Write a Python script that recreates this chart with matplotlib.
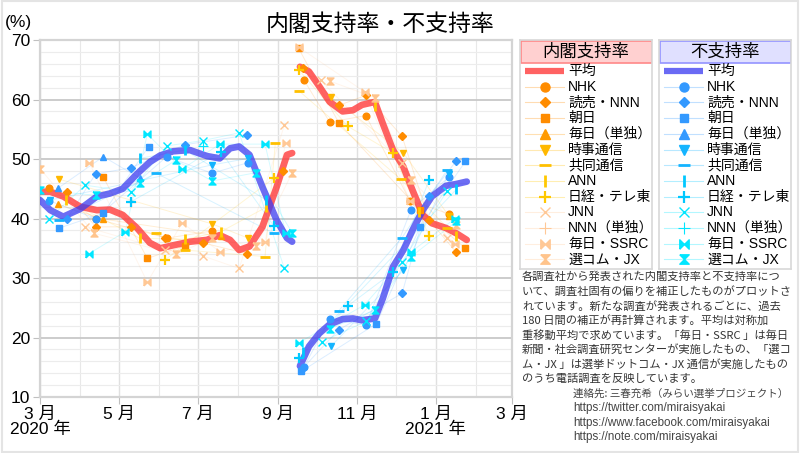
import matplotlib
matplotlib.use('Agg')
import matplotlib.pyplot as plt
import matplotlib.dates as mdates
from matplotlib.patches import Rectangle
from matplotlib.ticker import MultipleLocator, FuncFormatter
import pandas as pd

plt.rcParams['font.family'] = ['Liberation Sans', 'Noto Sans CJK JP', 'DejaVu Sans']
JP = ['Noto Sans CJK JP', 'DejaVu Sans']

# ---- averages (two segments, gap at the change of cabinet) ----
avg1_dates = ['2020-03-01', '2020-03-09', '2020-03-19', '2020-04-01', '2020-04-14', '2020-04-24',
              '2020-05-04', '2020-05-15', '2020-05-25', '2020-06-02', '2020-06-12', '2020-06-25',
              '2020-07-08', '2020-07-18', '2020-07-26', '2020-08-02', '2020-08-10', '2020-08-20',
              '2020-08-31', '2020-09-08', '2020-09-12']
support_avg1 = [44.5, 44.5, 43.7, 42.0, 41.4, 41.5, 40.6, 38.4, 35.9, 35.0, 35.5, 36.1,
                36.4, 37.2, 36.4, 34.7, 35.3, 38.6, 45.3, 50.7, 51.0]
oppose_avg1 = [43.1, 41.4, 40.3, 41.6, 43.7, 44.2, 45.0, 47.5, 49.5, 50.6, 51.3, 51.5,
               50.5, 50.1, 51.8, 52.1, 50.7, 45.3, 39.7, 36.7, 36.1]
avg2_dates = ['2020-09-18', '2020-09-25', '2020-10-03', '2020-10-11', '2020-10-21', '2020-10-29',
              '2020-11-05', '2020-11-15', '2020-11-21', '2020-11-29', '2020-12-07', '2020-12-14',
              '2020-12-22', '2020-12-29', '2021-01-09', '2021-01-17', '2021-01-25']
support_avg2 = [65.5, 64.7, 62.2, 59.6, 58.0, 58.2, 59.1, 59.6, 56.0, 51.5, 48.7, 44.8,
                40.6, 39.2, 38.4, 37.5, 36.4]
oppose_avg2 = [15.2, 18.5, 20.7, 22.2, 23.1, 23.2, 22.9, 23.2, 26.5, 31.9, 34.7, 38.0,
               41.4, 43.7, 45.5, 45.8, 46.2]

# ---- adjusted poll results (date, value) ----
nhk_support = [('2020-03-08', 45.1), ('2020-04-13', 40.0), ('2020-06-07', 36.7), ('2020-07-12', 37.9),
               ('2020-09-21', 63.3), ('2020-10-11', 56.2), ('2020-11-08', 57.3), ('2020-12-12', 43.0),
               ('2021-01-11', 40.8)]
nhk_oppose = [('2020-03-08', 43.0), ('2020-04-13', 40.0), ('2020-06-07', 50.4), ('2020-07-12', 47.6),
              ('2020-08-09', 49.4), ('2020-09-21', 15.0), ('2020-10-11', 23.1), ('2020-11-08', 22.1),
              ('2020-12-13', 41.5), ('2021-01-11', 46.9)]
yomiuri_support = [('2020-03-22', 44.5), ('2020-04-13', 38.6), ('2020-05-10', 38.6), ('2020-06-06', 36.8),
                   ('2020-07-05', 35.9), ('2020-08-08', 34.1), ('2020-09-05', 47.9), ('2020-09-20', 65.3),
                   ('2020-10-18', 59.0), ('2020-11-08', 60.7), ('2020-12-06', 53.8), ('2020-12-27', 39.7),
                   ('2021-01-17', 34.3)]
yomiuri_oppose = [('2020-03-22', 40.0), ('2020-04-13', 47.5), ('2020-05-10', 48.5), ('2020-06-21', 52.4),
                  ('2020-08-08', 54.0), ('2020-09-20', 14.8), ('2020-10-18', 21.3), ('2020-12-06', 27.4),
                  ('2020-12-27', 43.8), ('2021-01-17', 49.7)]
asahi_support = [('2020-04-19', 46.9), ('2020-05-23', 33.3), ('2020-06-21', 35.4), ('2020-09-17', 68.6),
                 ('2020-10-18', 56.1), ('2020-12-20', 41.4), ('2021-01-24', 35.0)]
asahi_oppose = [('2020-03-16', 38.4), ('2020-04-19', 40.9), ('2020-05-24', 52.1), ('2020-09-19', 14.3),
                ('2020-11-16', 22.3), ('2020-12-20', 38.6), ('2021-01-24', 49.6)]
mainichi_support = [('2020-03-15', 42.4), ('2020-04-19', 39.9), ('2020-07-19', 37.0), ('2021-01-11', 40.5)]
mainichi_oppose = [('2020-03-15', 45.1), ('2020-04-19', 50.4), ('2020-05-17', 46.8)]
jiji_support = [('2020-03-16', 46.6), ('2020-07-12', 39.1), ('2020-08-09', 36.7), ('2020-10-12', 60.4),
                ('2020-12-07', 51.0), ('2021-01-11', 40.5)]
jiji_oppose = [('2020-03-09', 43.1), ('2020-07-12', 49.0), ('2020-08-09', 50.1), ('2020-10-12', 18.5),
               ('2020-12-07', 31.3), ('2021-01-11', 47.5)]
kyodo_support = [('2020-05-30', 37.5), ('2020-06-21', 34.7), ('2020-08-22', 33.6), ('2020-08-30', 52.7),
                 ('2020-09-17', 61.5), ('2020-12-05', 46.6), ('2021-01-10', 38.4)]
kyodo_oppose = [('2020-03-16', 39.7), ('2020-05-30', 47.6), ('2020-08-29', 37.5), ('2020-10-18', 24.5),
                ('2020-12-06', 36.8), ('2021-01-10', 48.2)]
ann_support = [('2020-03-21', 43.1), ('2020-05-17', 36.7), ('2020-06-21', 36.5), ('2020-07-19', 37.8),
               ('2020-08-23', 41.9), ('2020-11-15', 58.9), ('2020-12-19', 41.1), ('2021-01-17', 37.0)]
ann_oppose = [('2020-05-17', 50.1), ('2020-06-21', 51.5), ('2020-08-23', 43.1), ('2020-09-20', 17.6),
              ('2021-01-17', 44.9)]
nikkei_support = [('2020-06-06', 33.1), ('2020-08-29', 46.8), ('2020-09-17', 65.0), ('2020-10-25', 55.5),
                  ('2020-11-29', 51.0), ('2020-12-27', 37.0)]
nikkei_oppose = [('2020-05-10', 42.8), ('2020-07-19', 51.2), ('2020-08-29', 38.7), ('2020-09-17', 16.5),
                 ('2020-10-25', 25.3), ('2020-11-29', 31.0), ('2020-12-27', 46.5)]
jnn_support = [('2020-04-05', 38.6), ('2020-06-06', 34.7), ('2020-07-05', 33.7), ('2020-08-02', 31.6),
               ('2020-09-06', 55.7), ('2020-10-04', 63.2), ('2020-12-06', 49.3), ('2021-01-10', 36.7)]
jnn_oppose = [('2020-03-08', 40.0), ('2020-04-05', 45.6), ('2020-05-10', 44.5), ('2020-06-07', 52.2),
              ('2020-07-05', 53.1), ('2020-08-02', 54.4), ('2020-09-06', 31.6), ('2020-10-05', 19.3),
              ('2020-11-08', 22.7), ('2020-12-06', 32.7), ('2021-01-10', 44.7)]
nnn_support = [('2020-05-10', 42.7)]
nnn_oppose = [('2020-07-05', 52.2)]
ssrc_support = [('2020-04-08', 49.4), ('2020-05-23', 29.3), ('2020-06-19', 39.3), ('2020-07-18', 34.4),
                ('2020-08-22', 36.1), ('2020-09-07', 52.7), ('2020-09-17', 68.8), ('2020-11-07', 61.3),
                ('2020-12-12', 43.0), ('2021-01-16', 35.7)]
ssrc_oppose = [('2020-04-08', 34.1), ('2020-05-06', 37.8), ('2020-05-23', 54.2), ('2020-06-19', 48.3),
               ('2020-07-18', 52.5), ('2020-08-22', 52.5), ('2020-09-07', 37.5), ('2020-09-17', 19.1),
               ('2020-11-07', 25.5), ('2020-12-13', 34.4), ('2021-01-16', 40.0)]
senkom_support = [('2020-03-01', 48.4), ('2020-04-12', 37.5), ('2020-06-14', 34.0), ('2020-07-12', 36.7),
                  ('2020-08-15', 35.3), ('2020-09-12', 47.7), ('2020-10-11', 63.1), ('2020-11-15', 60.3),
                  ('2020-12-13', 46.5), ('2021-01-17', 38.9)]
senkom_oppose = [('2020-03-01', 44.8), ('2020-04-13', 43.9), ('2020-05-17', 45.9), ('2020-06-14', 49.8),
                 ('2020-07-12', 46.3), ('2020-08-15', 47.7), ('2020-09-12', 37.6), ('2020-10-11', 21.5),
                 ('2020-11-15', 24.6), ('2020-12-13', 33.6), ('2021-01-17', 39.5)]

pollsters = ['NHK', '読売・NNN', '朝日', '毎日（単独）', '時事通信', '共同通信', 'ANN', '日経・テレ東',
             'JNN', 'NNN（単独）', '毎日・SSRC', '選コム・JX']
support_sets = [nhk_support, yomiuri_support, asahi_support, mainichi_support, jiji_support, kyodo_support,
                ann_support, nikkei_support, jnn_support, nnn_support, ssrc_support, senkom_support]
oppose_sets = [nhk_oppose, yomiuri_oppose, asahi_oppose, mainichi_oppose, jiji_oppose, kyodo_oppose,
               ann_oppose, nikkei_oppose, jnn_oppose, nnn_oppose, ssrc_oppose, senkom_oppose]

# ---- styles ----
support_colors = ['#ff8c00', '#ff8c00', '#ff8c00', '#ff9a00', '#ffb800', '#ffc000',
                  '#ffc800', '#ffc800', '#ffc896', '#ffc896', '#ffc896', '#ffc48c']
oppose_colors = ['#3399ff', '#3399ff', '#3399ff', '#3399ff', '#14b4ff', '#14b4ff',
                 '#00c8ff', '#00c8ff', '#00e6ff', '#00e6ff', '#00e6ff', '#00e6ff']
bowtie = [(-1, -1), (-1, 1), (0, 0), (1, 1), (1, -1), (0, 0), (-1, -1)]
hourglass = [(-1, 1), (1, 1), (0, 0), (1, -1), (-1, -1), (0, 0), (-1, 1)]
markers = [('o', 4.8, 1), ('D', 3.8, 1), ('s', 4.5, 1), ('^', 5.0, 1), ('v', 5.0, 1), ('_', 6.5, 2.0),
           ('|', 6.5, 2.0), ('+', 6.5, 1.6), ('x', 5.5, 1.0), ('+', 6.5, 0.8), (bowtie, 5.0, 1),
           (hourglass, 5.0, 1)]
gap = pd.Timestamp('2020-09-14')

fig = plt.figure(figsize=(8, 4.53), dpi=100)
fig.patches.append(Rectangle((0.002, 0.002), 0.996, 0.996, transform=fig.transFigure,
                             fill=False, edgecolor='#e4e4e4', lw=1.5))
ax = fig.add_axes([0.05, 0.1236, 0.59, 0.7881])

for sets, cols in [(support_sets, support_colors), (oppose_sets, oppose_colors)]:
    for pts, col in zip(sets, cols):
        d = pd.to_datetime([p[0] for p in pts])
        v = [p[1] for p in pts]
        for mask in [d < gap, d >= gap]:
            dd = [x for x, m in zip(d, mask) if m]
            vv = [x for x, m in zip(v, mask) if m]
            if len(dd) > 1:
                ax.plot(dd, vv, color=col, lw=0.7, alpha=0.17, zorder=2)

for dates, s, o in [(avg1_dates, support_avg1, oppose_avg1), (avg2_dates, support_avg2, oppose_avg2)]:
    d = pd.to_datetime(dates)
    ax.plot(d, s, color='#ff3c3c', lw=4.8, alpha=0.8, solid_capstyle='round', solid_joinstyle='round', zorder=3)
    ax.plot(d, o, color='#3c3cf0', lw=4.8, alpha=0.75, solid_capstyle='round', solid_joinstyle='round', zorder=3)

for sets, cols in [(support_sets, support_colors), (oppose_sets, oppose_colors)]:
    for pts, col, (mk, ms, mew) in zip(sets, cols, markers):
        d = pd.to_datetime([p[0] for p in pts])
        v = [p[1] for p in pts]
        ax.plot(d, v, ls='none', marker=mk, ms=ms, mew=mew, color=col, zorder=4)

ax.set_ylim(10, 70)
ax.set_xlim(pd.Timestamp('2020-03-01'), pd.Timestamp('2021-03-01'))
ax.yaxis.set_major_locator(MultipleLocator(10))
ax.yaxis.set_minor_locator(MultipleLocator(2))
ax.xaxis.set_major_locator(mdates.MonthLocator(bymonth=[1, 3, 5, 7, 9, 11]))
ax.xaxis.set_minor_locator(mdates.MonthLocator())


def month_label(x, pos):
    d = mdates.num2date(x)
    s = f'{d.month} 月'
    if pos == 0 or d.month == 1:
        s += f'\n{d.year} 年'
    return s


ax.xaxis.set_major_formatter(FuncFormatter(month_label))
ax.grid(which='major', axis='y', color='#c8c8c8', lw=1.3)
ax.grid(which='minor', axis='y', color='#ececec', lw=0.8)
ax.grid(which='major', axis='x', color='#e0e0e0', lw=1.0)
ax.grid(which='minor', axis='x', color='#e8e8e8', lw=0.8)
ax.set_axisbelow(True)
for sp in ax.spines.values():
    sp.set_color('#d4d4d4')
    sp.set_linewidth(1.6)
ax.tick_params(axis='both', which='major', length=5, color='#c0c0c0', labelsize=12.5, pad=2)
ax.tick_params(axis='both', which='minor', length=0)
for lab in ax.get_xticklabels():
    lab.set_linespacing(1.0)

fig.text(0.0225, 1 - 23 / 453, '(%)', fontsize=12.5, ha='center', va='center')
fig.text(380 / 800, 1 - 24 / 453, '内閣支持率・不支持率', fontsize=16.5, ha='center', va='center', family=JP)


# ---- legends ----
def draw_legend(x0, title, face, edge, avg_col, cols):
    lax = fig.add_axes([x0 / 800, 1 - 269 / 453, 132 / 800, 229 / 453])
    lax.set_xlim(0, 132)
    lax.set_ylim(229, 0)
    lax.set_xticks([])
    lax.set_yticks([])
    for sp in lax.spines.values():
        sp.set_color('#d8d8d8')
        sp.set_linewidth(1.2)
    lax.add_patch(Rectangle((0.5, 0.5), 131, 22.5, facecolor=face, edgecolor=edge, lw=1.2))
    lax.text(66, 12, title, fontsize=12.5, ha='center', va='center', family=JP)
    lax.plot([5, 44], [31, 31], color=avg_col, lw=4.5, solid_capstyle='butt')
    lax.text(48, 31, '平均', fontsize=10, va='center', family=JP)
    for i, (name, col, (mk, ms, mew)) in enumerate(zip(pollsters, cols, markers)):
        y = 46.7 + 15.7 * i
        lax.plot([5, 44], [y, y], color=col, lw=0.8, alpha=0.3)
        lax.plot([24.5], [y], marker=mk, ms=ms * 1.35, mew=mew, color=col, ls='none')
        lax.text(48, y, name, fontsize=10, va='center')


draw_legend(520, '内閣支持率', '#ffd0d0', '#ff8888', '#ff6262', support_colors)
draw_legend(659, '不支持率', '#e0e0ff', '#9494ff', '#6a6af4', oppose_colors)

notes = ['各調査社から発表された内閣支持率と不支持率につ',
         'いて、調査社固有の偏りを補正したものがプロットさ',
         'れています。新たな調査が発表されるごとに、過去',
         '180 日間の補正が再計算されます。平均は対称加',
         '重移動平均で求めています。「毎日・SSRC 」は毎日',
         '新聞・社会調査研究センターが実施したもの、「選コ',
         'ム・JX 」は選挙ドットコム・JX 通信が実施したもの',
         'のうち電話調査を反映しています。']
for i, line in enumerate(notes):
    fig.text(522 / 800, 1 - (277 + 14.5 * i) / 453, line, fontsize=8.1, color='#333333',
             va='center', family=JP)

contact = ['連絡先: 三春充希（みらい選挙プロジェクト）',
           'https://twitter.com/miraisyakai',
           'https://www.facebook.com/miraisyakai',
           'https://note.com/miraisyakai']
for i, line in enumerate(contact):
    fam = JP if i == 0 else ['Liberation Sans']
    size = 7.6 if i == 0 else 8.4
    fig.text(573 / 800, 1 - (394 + 14.3 * i) / 453, line, fontsize=size, color='#444444',
             va='center', family=fam)

fig.savefig('out.png', dpi=100)
